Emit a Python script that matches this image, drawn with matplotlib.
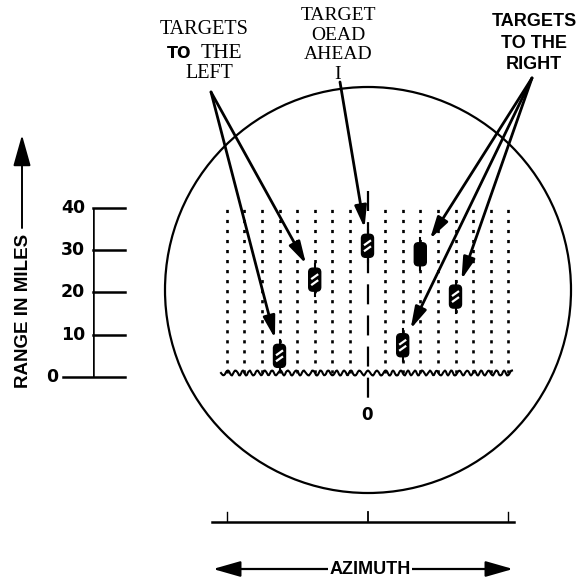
import matplotlib
matplotlib.use("Agg")
import matplotlib.pyplot as plt
from matplotlib import patches, transforms

# =========================================================================== #
#  data
# =========================================================================== #
range_ticks = [0, 10, 20, 30, 40]
range_labels = ["0", "10", "20", "30", "40"]
trace_columns = [-8, -7, -6, -5, -4, -3, -2, -1, 1, 2, 3, 4, 5, 6, 7, 8]
azimuth_ticks = [-8, 0, 8]

target_azimuth = [-5, -3, 0, 3, 5, 2]
target_range = [5, 23, 31, 29, 19, 7.5]
target_filled = [False, False, False, True, False, False]
target_group = ["left", "left", "ahead", "right", "right", "right"]

# =========================================================================== #
#  figure / axes
# =========================================================================== #
W, H = 583, 584
fig = plt.figure(figsize=(W / 100, H / 100), dpi=100)
fig.patch.set_facecolor("white")

# overlay in pixel coordinates for the drawing decorations
top = fig.add_axes([0, 0, 1, 1], zorder=0)
top.set_xlim(0, W)
top.set_ylim(H, 0)
top.axis("off")

# scope: x = azimuth column, y = range in miles
px_col = 17.6
cx = 367.5
y0, y40 = 377, 207.7
scope = fig.add_axes([(cx - 10 * px_col) / W, (H - y0) / H,
                      20 * px_col / W, (y0 - y40) / H], zorder=2)
scope.set_xlim(-10, 10)
scope.set_ylim(0, 40)
scope.axis("off")
scope.patch.set_visible(False)

# range scale
scale = fig.add_axes([93 / W, (H - y0) / H, 32 / W, (y0 - y40) / H], zorder=1)
scale.set_xlim(0, 1)
scale.set_ylim(0, 40)
scale.axis("off")

sans = "DejaVu Sans"
serif = "Liberation Serif"

# =========================================================================== #
#  scope face
# =========================================================================== #
top.add_patch(patches.Circle((368, 290), 203, fill=False, lw=1.6, color="black"))

scope.vlines(trace_columns, 1, 40, colors="black", lw=1.9,
             linestyles=(0, (1.2, 2.6)), clip_on=False)
scope.plot([0, 0], [44, -6], color="black", lw=1.6,
           linestyle=(0, (9, 5)), clip_on=False)
base, = scope.plot([-8.3, 8.2], [1, 1], color="black", lw=1.5, clip_on=False)
base.set_sketch_params(scale=2.5, length=8, randomness=1.5)
scope.text(0, -9, "0", ha="center", va="center", fontsize=12,
           fontweight="bold", family=sans, clip_on=False)

# targets (rounded blips with two white strokes)
for az, rng, filled in zip(target_azimuth, target_range, target_filled):
    tr = fig.dpi_scale_trans + transforms.ScaledTranslation(az, rng, scope.transData)
    scope.add_patch(patches.FancyBboxPatch(
        (-0.06, -0.115), 0.12, 0.23,
        boxstyle="round,pad=0,rounding_size=0.04",
        facecolor="black", edgecolor="black", lw=1, transform=tr, zorder=4))
    scope.plot([0, 0], [0.115, 0.16], color="black", lw=1.5, transform=tr)
    scope.plot([0, 0], [-0.115, -0.16], color="black", lw=1.5, transform=tr)
    if not filled:
        for dy in (-0.03, 0.03):
            scope.plot([-0.035, 0.035], [dy - 0.025, dy + 0.025], color="white",
                       lw=1.6, transform=tr, zorder=5, solid_capstyle="butt")

# =========================================================================== #
#  labels and pointer arrows
# =========================================================================== #
tkw = dict(ha="center", va="center", color="black")
top.text(204, 30, "TARGETS", family=serif, fontsize=14.5, **tkw)
top.text(179, 54, "TO", family=sans, fontsize=11.5, fontweight="bold", **tkw)
top.text(221, 54, "THE", family=serif, fontsize=15.5, **tkw)
top.text(209, 74, "LEFT", family=serif, fontsize=14.5, **tkw)

top.text(338, 45, "TARGET\nOEAD\nAHEAD\nI", family=serif, fontsize=14,
         linespacing=1.2, multialignment="center", **tkw)

top.text(534, 43, "TARGETS\nTO THE\nRIGHT", family="Liberation Sans",
         fontsize=13, fontweight="bold", linespacing=1.32,
         multialignment="center", **tkw)

origins = {"left": (211, 92), "ahead": (340, 82), "right": (532, 78)}
for az, rng, grp in zip(target_azimuth, target_range, target_group):
    scope.annotate("", xy=(az, rng), xycoords="data",
                   xytext=origins[grp], textcoords=top.transData,
                   annotation_clip=False,
                   arrowprops=dict(arrowstyle="-|>,head_length=1.1,head_width=0.3",
                                   mutation_scale=12, lw=2.0, color="black",
                                   shrinkA=0, shrinkB=13))

# =========================================================================== #
#  range scale
# =========================================================================== #
scale.vlines(0, 0, 40, colors="black", lw=1.8)
for r, lab in zip(range_ticks, range_labels):
    x_start = -30 / 32 if r == 0 else 0
    scale.plot([x_start, 1], [r, r], color="black", lw=1.8, clip_on=False)
    x_lab = -35 / 32 if r == 0 else -8 / 32
    scale.text(x_lab, r, lab, ha="right", va="center", fontsize=12.5,
               fontweight="bold", family=sans, clip_on=False)

top.text(24, 311, "RANGE IN MILES", rotation=90, family="Liberation Sans",
         fontsize=13.5, fontweight="bold", **tkw)
top.annotate("", xy=(22, 135), xytext=(22, 228),
             arrowprops=dict(arrowstyle="-|>,head_length=1.6,head_width=0.45",
                             mutation_scale=12, lw=1.4, color="black",
                             shrinkA=0, shrinkB=0))

# =========================================================================== #
#  azimuth bar
# =========================================================================== #
blend = transforms.blended_transform_factory(scope.transData, top.transData)
top.plot([212, 514], [522, 522], color="black", lw=1.8)
for az in azimuth_ticks:
    top.plot([az, az], [512, 521], color="black", lw=1.0 if az else 1.3,
             transform=blend)

top.annotate("", xy=(213, 569), xytext=(513, 569),
             arrowprops=dict(arrowstyle="<|-|>,head_length=1.4,head_width=0.4",
                             mutation_scale=12, lw=1.6, color="black",
                             shrinkA=0, shrinkB=0))
top.text(370, 569, "AZIMUTH", family="Liberation Sans", fontsize=13,
         fontweight="bold", bbox=dict(facecolor="white", edgecolor="none", pad=1),
         **tkw)

fig.savefig("out.png", dpi=100)
